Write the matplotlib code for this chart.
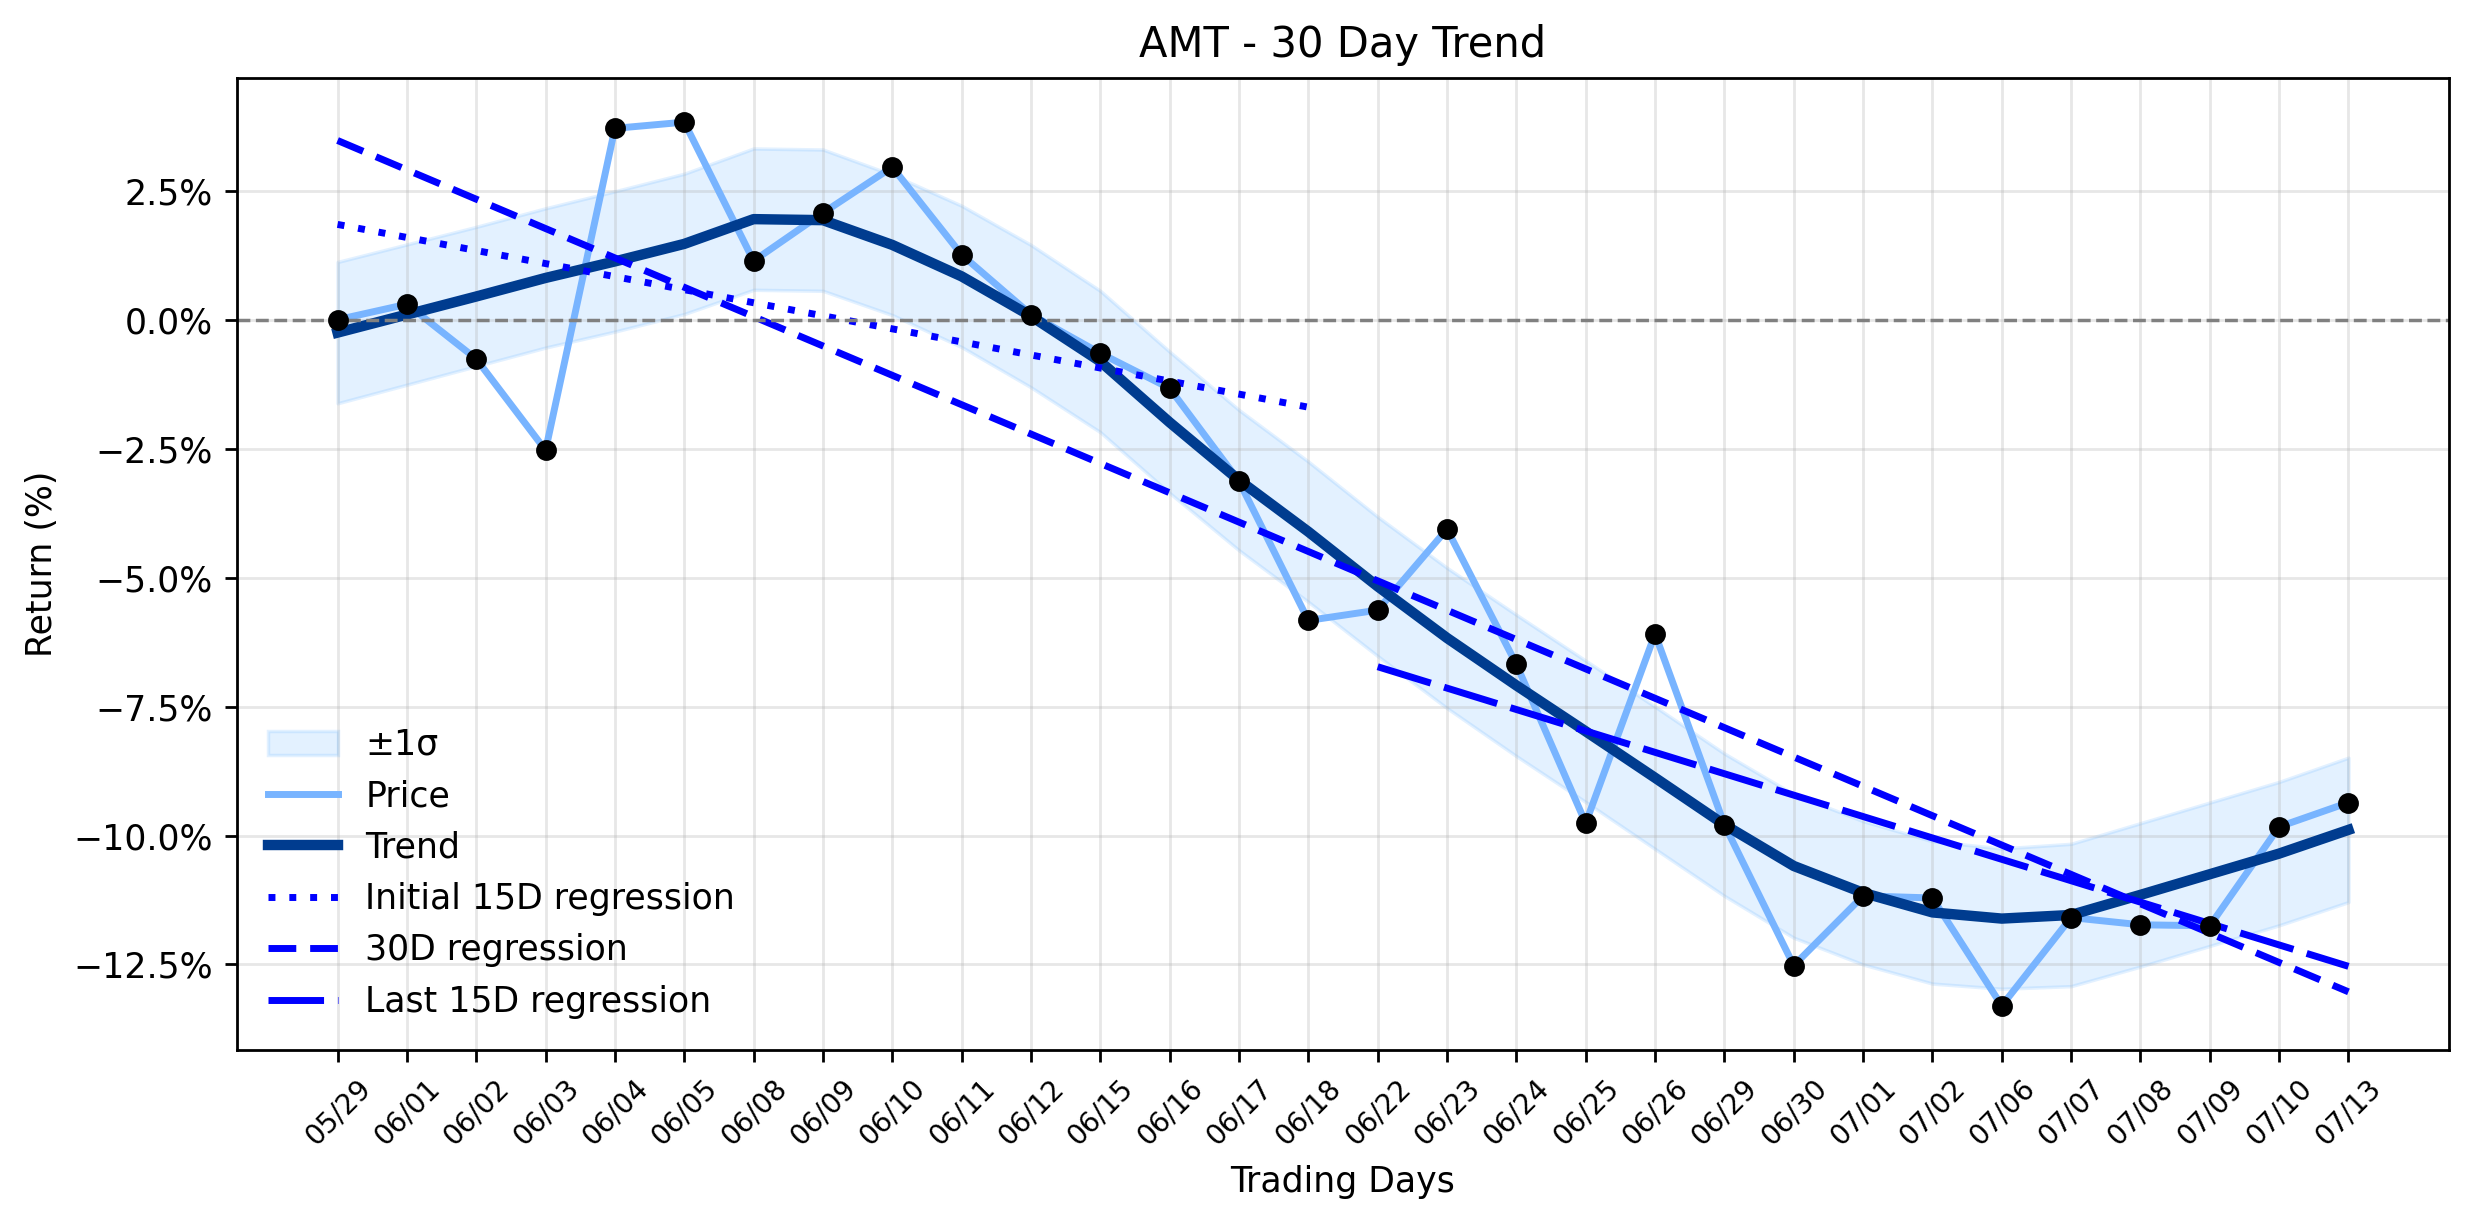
import numpy as np
import matplotlib
matplotlib.use("Agg")
import matplotlib.pyplot as plt
from matplotlib.ticker import PercentFormatter

dates = ["05/29", "06/01", "06/02", "06/03", "06/04", "06/05", "06/08", "06/09", "06/10", "06/11",
         "06/12", "06/15", "06/16", "06/17", "06/18", "06/22", "06/23", "06/24", "06/25", "06/26",
         "06/29", "06/30", "07/01", "07/02", "07/06", "07/07", "07/08", "07/09", "07/10", "07/13"]

price = [0.00, 0.30, -0.76, -2.53, 3.71, 3.83, 1.14, 2.07, 2.96, 1.26,
         0.10, -0.65, -1.33, -3.13, -5.83, -5.63, -4.06, -6.68, -9.76, -6.09,
         -9.79, -12.52, -11.17, -11.21, -13.30, -11.59, -11.73, -11.75, -9.83, -9.36]

trend = [-0.25, 0.10, 0.45, 0.81, 1.13, 1.47, 1.95, 1.93, 1.45, 0.84,
         0.07, -0.81, -1.99, -3.11, -4.11, -5.17, -6.17, -7.09, -7.98, -8.88,
         -9.79, -10.59, -11.11, -11.49, -11.61, -11.54, -11.15, -10.75, -10.35, -9.89]

sigma = [1.37, 1.36, 1.35, 1.35, 1.36, 1.36, 1.37, 1.37, 1.36, 1.37,
         1.38, 1.37, 1.37, 1.36, 1.36, 1.35, 1.36, 1.37, 1.37, 1.38,
         1.38, 1.39, 1.39, 1.38, 1.36, 1.38, 1.39, 1.39, 1.39, 1.40]

x = np.arange(len(dates))
price_a = np.array(price)
trend_a = np.array(trend)
sigma_a = np.array(sigma)

fig = plt.figure(figsize=(2474 / 250, 1224 / 250), dpi=250)
ax = fig.add_subplot(111)
fig.subplots_adjust(left=0.0958, right=0.9899, top=0.9363, bottom=0.1422)

ax.fill_between(x, trend_a - sigma_a, trend_a + sigma_a, color="#1e90ff", alpha=0.12, label="±1σ")
ax.plot(x, price_a, color="#78b4ff", lw=2, label="Price")
ax.plot(x, trend_a, color="#003c8f", lw=3, label="Trend")

# regressions
x1 = x[:15]
p1 = np.polyfit(x1, price_a[:15], 1)
ax.plot(x1, np.polyval(p1, x1), color="blue", lw=2, linestyle=(0, (1, 2)), label="Initial 15D regression")
p2 = np.polyfit(x, price_a, 1)
ax.plot(x, np.polyval(p2, x), color="blue", lw=2, linestyle=(0, (4, 2)), label="30D regression")
x3 = x[15:]
p3 = np.polyfit(x3, price_a[15:], 1)
ax.plot(x3, np.polyval(p3, x3), color="blue", lw=2, linestyle=(0, (8, 2)), label="Last 15D regression")

ax.plot(x, price_a, "o", color="black", ms=5, zorder=5)
ax.axhline(0, color="gray", linestyle="--", lw=1)

ax.set_xticks(x)
ax.set_xticklabels(dates, rotation=45, fontsize=8)
ax.yaxis.set_major_formatter(PercentFormatter(decimals=1))
ax.grid(True, alpha=0.3)
ax.set_title("AMT - 30 Day Trend")
ax.set_xlabel("Trading Days")
ax.set_ylabel("Return (%)")
ax.legend(loc="lower left", frameon=False)

fig.savefig("out.png", dpi=250)
